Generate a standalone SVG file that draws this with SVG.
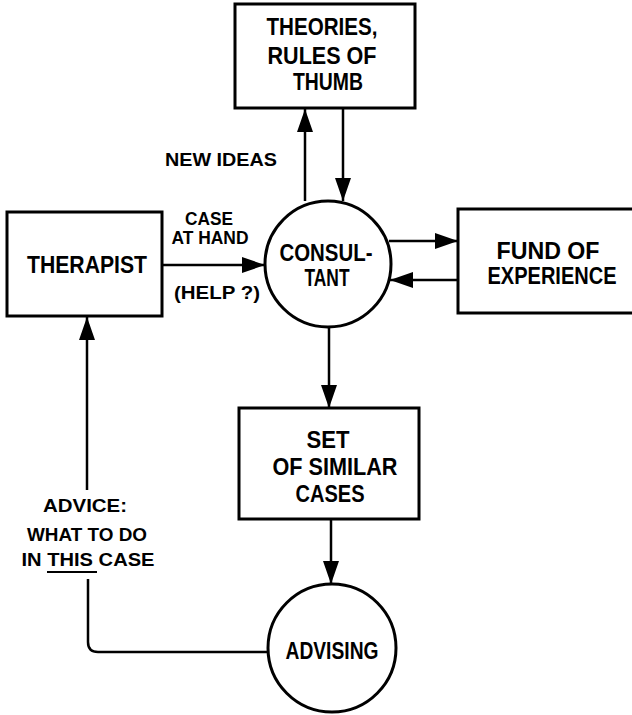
<svg xmlns="http://www.w3.org/2000/svg" width="632" height="715" viewBox="0 0 632 715">
<style>
.box{fill:#fff;stroke:#000;stroke-width:3}
.ln{fill:none;stroke:#000;stroke-width:2.5}
.t{font-family:"Liberation Sans",Arial,sans-serif;font-weight:bold;font-size:23px;text-anchor:middle;fill:#000}
.s{font-family:"Liberation Sans",Arial,sans-serif;font-weight:bold;font-size:18px;text-anchor:middle;fill:#000}
</style>
<defs>
<marker id="ah" markerUnits="userSpaceOnUse" markerWidth="24" markerHeight="16" viewBox="0 0 24 16" refX="23" refY="8" orient="auto">
<path d="M0,0 L23,8 L0,16 z" fill="#000"/>
</marker>
</defs>
<rect width="632" height="715" fill="#fff"/>
<g id="connectors">
<line class="ln" x1="305" y1="201" x2="305" y2="109" marker-end="url(#ah)"/>
<line class="ln" x1="343" y1="109" x2="343" y2="201" marker-end="url(#ah)"/>
<line class="ln" x1="162" y1="265" x2="265" y2="265" marker-end="url(#ah)"/>
<line class="ln" x1="389" y1="241" x2="458" y2="241" marker-end="url(#ah)"/>
<line class="ln" x1="458" y1="280" x2="390" y2="280" marker-end="url(#ah)"/>
<line class="ln" x1="329" y1="327" x2="329" y2="408" marker-end="url(#ah)"/>
<line class="ln" x1="331" y1="519" x2="331" y2="584" marker-end="url(#ah)"/>
<path class="ln" d="M268,652 L98,652 Q88,652 88,642 L88,579"/>
<line class="ln" x1="87" y1="490" x2="87" y2="317" marker-end="url(#ah)"/>
<text class="s" x="221" y="166" textLength="112" lengthAdjust="spacingAndGlyphs">NEW IDEAS</text>
<text class="s" x="209" y="225" textLength="48" lengthAdjust="spacingAndGlyphs">CASE</text>
<text class="s" x="210" y="244" textLength="77" lengthAdjust="spacingAndGlyphs">AT HAND</text>
<text class="s" x="217" y="299" textLength="86" lengthAdjust="spacingAndGlyphs">(HELP ?)</text>
<text class="s" x="85" y="512" textLength="84" lengthAdjust="spacingAndGlyphs">ADVICE:</text>
<text class="s" x="87" y="541" textLength="120" lengthAdjust="spacingAndGlyphs">WHAT TO DO</text>
<text class="s" x="88" y="566" textLength="133" lengthAdjust="spacingAndGlyphs">IN THIS CASE</text>
<line x1="47" y1="572" x2="97" y2="572" stroke="#000" stroke-width="2"/>
</g>
<g id="theories">
<rect class="box" x="235" y="4" width="180" height="104"/>
<text class="t" x="322" y="35" textLength="111" lengthAdjust="spacingAndGlyphs">THEORIES,</text>
<text class="t" x="322" y="64" textLength="109" lengthAdjust="spacingAndGlyphs">RULES OF</text>
<text class="t" x="328" y="90" textLength="70" lengthAdjust="spacingAndGlyphs">THUMB</text>
</g>
<g id="therapist">
<rect class="box" x="7" y="212" width="155" height="104"/>
<text class="t" x="87" y="273" textLength="120" lengthAdjust="spacingAndGlyphs">THERAPIST</text>
</g>
<g id="consultant">
<circle class="box" cx="328" cy="264" r="63"/>
<text class="t" x="326" y="261" textLength="93" lengthAdjust="spacingAndGlyphs">CONSUL-</text>
<text class="t" x="327" y="286" textLength="45" lengthAdjust="spacingAndGlyphs">TANT</text>
</g>
<g id="fund">
<rect class="box" x="458" y="209" width="178" height="104"/>
<text class="t" x="548" y="259" textLength="103" lengthAdjust="spacingAndGlyphs">FUND OF</text>
<text class="t" x="552" y="284" textLength="129" lengthAdjust="spacingAndGlyphs">EXPERIENCE</text>
</g>
<g id="similar">
<rect class="box" x="239" y="408" width="180" height="111"/>
<text class="t" x="328" y="448" textLength="43" lengthAdjust="spacingAndGlyphs">SET</text>
<text class="t" x="335" y="475" textLength="125" lengthAdjust="spacingAndGlyphs">OF SIMILAR</text>
<text class="t" x="330" y="502" textLength="69" lengthAdjust="spacingAndGlyphs">CASES</text>
</g>
<g id="advising">
<circle class="box" cx="332" cy="648" r="64"/>
<text class="t" x="332" y="659" textLength="93" lengthAdjust="spacingAndGlyphs">ADVISING</text>
</g>
</svg>
